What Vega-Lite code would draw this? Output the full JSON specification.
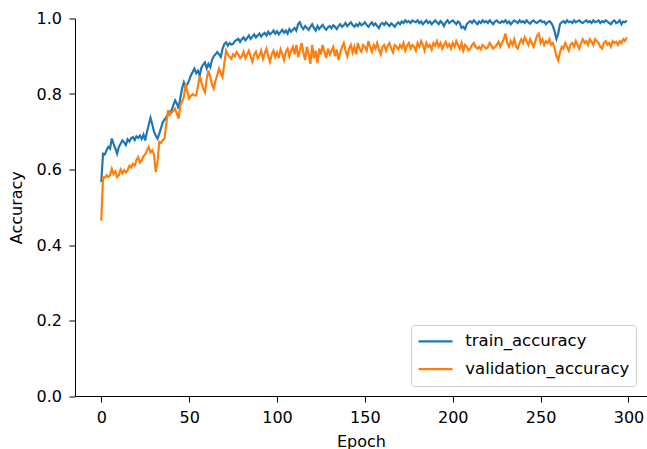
{
"$schema": "https://vega.github.io/schema/vega-lite/v6.json",
"width": 572, "height": 377.5,
"autosize": {"type": "none"},
"padding": {"left": 75, "top": 18.5, "right": 0, "bottom": 53},
"background": "white",
"config": {"view": {"stroke": null}, "font": "DejaVu Sans"},
"datasets": {"acc": [
{"epoch":0,"train_accuracy":0.567,"validation_accuracy":0.464},{"epoch":1,"train_accuracy":0.642,"validation_accuracy":0.580},{"epoch":2,"train_accuracy":0.640,"validation_accuracy":0.578},{"epoch":3,"train_accuracy":0.651,"validation_accuracy":0.585},{"epoch":4,"train_accuracy":0.660,"validation_accuracy":0.580},{"epoch":5,"train_accuracy":0.655,"validation_accuracy":0.585},{"epoch":6,"train_accuracy":0.682,"validation_accuracy":0.602},{"epoch":7,"train_accuracy":0.668,"validation_accuracy":0.588},{"epoch":8,"train_accuracy":0.655,"validation_accuracy":0.595},{"epoch":9,"train_accuracy":0.642,"validation_accuracy":0.580},
{"epoch":10,"train_accuracy":0.660,"validation_accuracy":0.585},{"epoch":11,"train_accuracy":0.668,"validation_accuracy":0.600},{"epoch":12,"train_accuracy":0.677,"validation_accuracy":0.590},{"epoch":13,"train_accuracy":0.672,"validation_accuracy":0.598},{"epoch":14,"train_accuracy":0.665,"validation_accuracy":0.592},{"epoch":15,"train_accuracy":0.680,"validation_accuracy":0.598},{"epoch":16,"train_accuracy":0.674,"validation_accuracy":0.610},{"epoch":17,"train_accuracy":0.683,"validation_accuracy":0.605},{"epoch":18,"train_accuracy":0.686,"validation_accuracy":0.615},{"epoch":19,"train_accuracy":0.678,"validation_accuracy":0.610},
{"epoch":20,"train_accuracy":0.688,"validation_accuracy":0.625},{"epoch":21,"train_accuracy":0.684,"validation_accuracy":0.633},{"epoch":22,"train_accuracy":0.690,"validation_accuracy":0.618},{"epoch":23,"train_accuracy":0.681,"validation_accuracy":0.624},{"epoch":24,"train_accuracy":0.692,"validation_accuracy":0.635},{"epoch":25,"train_accuracy":0.677,"validation_accuracy":0.640},{"epoch":26,"train_accuracy":0.700,"validation_accuracy":0.650},{"epoch":27,"train_accuracy":0.718,"validation_accuracy":0.660},{"epoch":28,"train_accuracy":0.737,"validation_accuracy":0.645},{"epoch":29,"train_accuracy":0.720,"validation_accuracy":0.651},
{"epoch":30,"train_accuracy":0.700,"validation_accuracy":0.640},{"epoch":31,"train_accuracy":0.690,"validation_accuracy":0.593},{"epoch":32,"train_accuracy":0.682,"validation_accuracy":0.620},{"epoch":33,"train_accuracy":0.695,"validation_accuracy":0.673},{"epoch":34,"train_accuracy":0.710,"validation_accuracy":0.670},{"epoch":35,"train_accuracy":0.725,"validation_accuracy":0.678},{"epoch":36,"train_accuracy":0.732,"validation_accuracy":0.682},{"epoch":37,"train_accuracy":0.739,"validation_accuracy":0.720},{"epoch":38,"train_accuracy":0.745,"validation_accuracy":0.757},{"epoch":39,"train_accuracy":0.752,"validation_accuracy":0.745},
{"epoch":40,"train_accuracy":0.757,"validation_accuracy":0.750},{"epoch":41,"train_accuracy":0.770,"validation_accuracy":0.755},{"epoch":42,"train_accuracy":0.783,"validation_accuracy":0.761},{"epoch":43,"train_accuracy":0.775,"validation_accuracy":0.748},{"epoch":44,"train_accuracy":0.761,"validation_accuracy":0.735},{"epoch":45,"train_accuracy":0.790,"validation_accuracy":0.770},{"epoch":46,"train_accuracy":0.815,"validation_accuracy":0.780},{"epoch":47,"train_accuracy":0.831,"validation_accuracy":0.792},{"epoch":48,"train_accuracy":0.820,"validation_accuracy":0.827},{"epoch":49,"train_accuracy":0.826,"validation_accuracy":0.805},
{"epoch":50,"train_accuracy":0.836,"validation_accuracy":0.788},{"epoch":51,"train_accuracy":0.850,"validation_accuracy":0.795},{"epoch":52,"train_accuracy":0.858,"validation_accuracy":0.800},{"epoch":53,"train_accuracy":0.867,"validation_accuracy":0.796},{"epoch":54,"train_accuracy":0.855,"validation_accuracy":0.796},{"epoch":55,"train_accuracy":0.862,"validation_accuracy":0.820},{"epoch":56,"train_accuracy":0.849,"validation_accuracy":0.849},{"epoch":57,"train_accuracy":0.870,"validation_accuracy":0.830},{"epoch":58,"train_accuracy":0.878,"validation_accuracy":0.815},{"epoch":59,"train_accuracy":0.884,"validation_accuracy":0.805},
{"epoch":60,"train_accuracy":0.868,"validation_accuracy":0.840},{"epoch":61,"train_accuracy":0.880,"validation_accuracy":0.862},{"epoch":62,"train_accuracy":0.871,"validation_accuracy":0.845},{"epoch":63,"train_accuracy":0.890,"validation_accuracy":0.825},{"epoch":64,"train_accuracy":0.900,"validation_accuracy":0.814},{"epoch":65,"train_accuracy":0.905,"validation_accuracy":0.835},{"epoch":66,"train_accuracy":0.911,"validation_accuracy":0.850},{"epoch":67,"train_accuracy":0.905,"validation_accuracy":0.867},{"epoch":68,"train_accuracy":0.898,"validation_accuracy":0.855},{"epoch":69,"train_accuracy":0.920,"validation_accuracy":0.845},
{"epoch":70,"train_accuracy":0.932,"validation_accuracy":0.880},{"epoch":71,"train_accuracy":0.937,"validation_accuracy":0.915},{"epoch":72,"train_accuracy":0.928,"validation_accuracy":0.905},{"epoch":73,"train_accuracy":0.935,"validation_accuracy":0.898},{"epoch":74,"train_accuracy":0.931,"validation_accuracy":0.893},{"epoch":75,"train_accuracy":0.933,"validation_accuracy":0.905},{"epoch":76,"train_accuracy":0.940,"validation_accuracy":0.900},{"epoch":77,"train_accuracy":0.943,"validation_accuracy":0.911},{"epoch":78,"train_accuracy":0.946,"validation_accuracy":0.905},{"epoch":79,"train_accuracy":0.938,"validation_accuracy":0.895},
{"epoch":80,"train_accuracy":0.945,"validation_accuracy":0.900},{"epoch":81,"train_accuracy":0.950,"validation_accuracy":0.912},{"epoch":82,"train_accuracy":0.942,"validation_accuracy":0.895},{"epoch":83,"train_accuracy":0.948,"validation_accuracy":0.905},{"epoch":84,"train_accuracy":0.955,"validation_accuracy":0.915},{"epoch":85,"train_accuracy":0.946,"validation_accuracy":0.898},{"epoch":86,"train_accuracy":0.952,"validation_accuracy":0.885},{"epoch":87,"train_accuracy":0.958,"validation_accuracy":0.905},{"epoch":88,"train_accuracy":0.950,"validation_accuracy":0.912},{"epoch":89,"train_accuracy":0.955,"validation_accuracy":0.895},
{"epoch":90,"train_accuracy":0.960,"validation_accuracy":0.902},{"epoch":91,"train_accuracy":0.952,"validation_accuracy":0.915},{"epoch":92,"train_accuracy":0.958,"validation_accuracy":0.893},{"epoch":93,"train_accuracy":0.962,"validation_accuracy":0.908},{"epoch":94,"train_accuracy":0.955,"validation_accuracy":0.920},{"epoch":95,"train_accuracy":0.965,"validation_accuracy":0.900},{"epoch":96,"train_accuracy":0.958,"validation_accuracy":0.885},{"epoch":97,"train_accuracy":0.962,"validation_accuracy":0.905},{"epoch":98,"train_accuracy":0.968,"validation_accuracy":0.915},{"epoch":99,"train_accuracy":0.960,"validation_accuracy":0.898},
{"epoch":100,"train_accuracy":0.966,"validation_accuracy":0.910},{"epoch":101,"train_accuracy":0.958,"validation_accuracy":0.895},{"epoch":102,"train_accuracy":0.964,"validation_accuracy":0.918},{"epoch":103,"train_accuracy":0.970,"validation_accuracy":0.905},{"epoch":104,"train_accuracy":0.962,"validation_accuracy":0.890},{"epoch":105,"train_accuracy":0.968,"validation_accuracy":0.912},{"epoch":106,"train_accuracy":0.960,"validation_accuracy":0.920},{"epoch":107,"train_accuracy":0.972,"validation_accuracy":0.900},{"epoch":108,"train_accuracy":0.965,"validation_accuracy":0.915},{"epoch":109,"train_accuracy":0.970,"validation_accuracy":0.925},
{"epoch":110,"train_accuracy":0.975,"validation_accuracy":0.905},{"epoch":111,"train_accuracy":0.968,"validation_accuracy":0.930},{"epoch":112,"train_accuracy":0.985,"validation_accuracy":0.898},{"epoch":113,"train_accuracy":0.990,"validation_accuracy":0.915},{"epoch":114,"train_accuracy":0.978,"validation_accuracy":0.935},{"epoch":115,"train_accuracy":0.972,"validation_accuracy":0.910},{"epoch":116,"train_accuracy":0.980,"validation_accuracy":0.890},{"epoch":117,"train_accuracy":0.975,"validation_accuracy":0.925},{"epoch":118,"train_accuracy":0.970,"validation_accuracy":0.905},{"epoch":119,"train_accuracy":0.978,"validation_accuracy":0.880},
{"epoch":120,"train_accuracy":0.985,"validation_accuracy":0.930},{"epoch":121,"train_accuracy":0.975,"validation_accuracy":0.895},{"epoch":122,"train_accuracy":0.968,"validation_accuracy":0.915},{"epoch":123,"train_accuracy":0.980,"validation_accuracy":0.882},{"epoch":124,"train_accuracy":0.972,"validation_accuracy":0.920},{"epoch":125,"train_accuracy":0.978,"validation_accuracy":0.905},{"epoch":126,"train_accuracy":0.983,"validation_accuracy":0.930},{"epoch":127,"train_accuracy":0.975,"validation_accuracy":0.912},{"epoch":128,"train_accuracy":0.970,"validation_accuracy":0.895},{"epoch":129,"train_accuracy":0.977,"validation_accuracy":0.920},
{"epoch":130,"train_accuracy":0.980,"validation_accuracy":0.905},{"epoch":131,"train_accuracy":0.974,"validation_accuracy":0.915},{"epoch":132,"train_accuracy":0.982,"validation_accuracy":0.925},{"epoch":133,"train_accuracy":0.978,"validation_accuracy":0.900},{"epoch":134,"train_accuracy":0.972,"validation_accuracy":0.918},{"epoch":135,"train_accuracy":0.980,"validation_accuracy":0.890},{"epoch":136,"train_accuracy":0.985,"validation_accuracy":0.910},{"epoch":137,"train_accuracy":0.978,"validation_accuracy":0.925},{"epoch":138,"train_accuracy":0.982,"validation_accuracy":0.935},{"epoch":139,"train_accuracy":0.988,"validation_accuracy":0.915},
{"epoch":140,"train_accuracy":0.980,"validation_accuracy":0.900},{"epoch":141,"train_accuracy":0.985,"validation_accuracy":0.920},{"epoch":142,"train_accuracy":0.990,"validation_accuracy":0.930},{"epoch":143,"train_accuracy":0.983,"validation_accuracy":0.910},{"epoch":144,"train_accuracy":0.978,"validation_accuracy":0.925},{"epoch":145,"train_accuracy":0.985,"validation_accuracy":0.905},{"epoch":146,"train_accuracy":0.980,"validation_accuracy":0.935},{"epoch":147,"train_accuracy":0.988,"validation_accuracy":0.920},{"epoch":148,"train_accuracy":0.982,"validation_accuracy":0.912},{"epoch":149,"train_accuracy":0.985,"validation_accuracy":0.930},
{"epoch":150,"train_accuracy":0.990,"validation_accuracy":0.925},{"epoch":151,"train_accuracy":0.983,"validation_accuracy":0.915},{"epoch":152,"train_accuracy":0.978,"validation_accuracy":0.940},{"epoch":153,"train_accuracy":0.985,"validation_accuracy":0.925},{"epoch":154,"train_accuracy":0.990,"validation_accuracy":0.912},{"epoch":155,"train_accuracy":0.982,"validation_accuracy":0.930},{"epoch":156,"train_accuracy":0.987,"validation_accuracy":0.920},{"epoch":157,"train_accuracy":0.980,"validation_accuracy":0.935},{"epoch":158,"train_accuracy":0.975,"validation_accuracy":0.918},{"epoch":159,"train_accuracy":0.985,"validation_accuracy":0.905},
{"epoch":160,"train_accuracy":0.988,"validation_accuracy":0.925},{"epoch":161,"train_accuracy":0.983,"validation_accuracy":0.930},{"epoch":162,"train_accuracy":0.990,"validation_accuracy":0.915},{"epoch":163,"train_accuracy":0.985,"validation_accuracy":0.928},{"epoch":164,"train_accuracy":0.980,"validation_accuracy":0.935},{"epoch":165,"train_accuracy":0.987,"validation_accuracy":0.920},{"epoch":166,"train_accuracy":0.983,"validation_accuracy":0.910},{"epoch":167,"train_accuracy":0.978,"validation_accuracy":0.930},{"epoch":168,"train_accuracy":0.985,"validation_accuracy":0.925},{"epoch":169,"train_accuracy":0.990,"validation_accuracy":0.918},
{"epoch":170,"train_accuracy":0.985,"validation_accuracy":0.930},{"epoch":171,"train_accuracy":0.992,"validation_accuracy":0.922},{"epoch":172,"train_accuracy":0.988,"validation_accuracy":0.935},{"epoch":173,"train_accuracy":0.995,"validation_accuracy":0.915},{"epoch":174,"train_accuracy":0.990,"validation_accuracy":0.928},{"epoch":175,"train_accuracy":0.993,"validation_accuracy":0.935},{"epoch":176,"train_accuracy":0.988,"validation_accuracy":0.920},{"epoch":177,"train_accuracy":0.995,"validation_accuracy":0.930},{"epoch":178,"train_accuracy":0.992,"validation_accuracy":0.925},{"epoch":179,"train_accuracy":0.990,"validation_accuracy":0.915},
{"epoch":180,"train_accuracy":0.995,"validation_accuracy":0.935},{"epoch":181,"train_accuracy":0.988,"validation_accuracy":0.925},{"epoch":182,"train_accuracy":0.992,"validation_accuracy":0.940},{"epoch":183,"train_accuracy":0.985,"validation_accuracy":0.930},{"epoch":184,"train_accuracy":0.990,"validation_accuracy":0.915},{"epoch":185,"train_accuracy":0.995,"validation_accuracy":0.935},{"epoch":186,"train_accuracy":0.988,"validation_accuracy":0.925},{"epoch":187,"train_accuracy":0.992,"validation_accuracy":0.930},{"epoch":188,"train_accuracy":0.985,"validation_accuracy":0.918},{"epoch":189,"train_accuracy":0.990,"validation_accuracy":0.935},
{"epoch":190,"train_accuracy":0.995,"validation_accuracy":0.928},{"epoch":191,"train_accuracy":0.990,"validation_accuracy":0.940},{"epoch":192,"train_accuracy":0.985,"validation_accuracy":0.925},{"epoch":193,"train_accuracy":0.993,"validation_accuracy":0.935},{"epoch":194,"train_accuracy":0.988,"validation_accuracy":0.920},{"epoch":195,"train_accuracy":0.980,"validation_accuracy":0.930},{"epoch":196,"train_accuracy":0.990,"validation_accuracy":0.938},{"epoch":197,"train_accuracy":0.995,"validation_accuracy":0.925},{"epoch":198,"train_accuracy":0.988,"validation_accuracy":0.932},{"epoch":199,"train_accuracy":0.992,"validation_accuracy":0.920},
{"epoch":200,"train_accuracy":0.995,"validation_accuracy":0.935},{"epoch":201,"train_accuracy":0.990,"validation_accuracy":0.925},{"epoch":202,"train_accuracy":0.985,"validation_accuracy":0.940},{"epoch":203,"train_accuracy":0.992,"validation_accuracy":0.930},{"epoch":204,"train_accuracy":0.988,"validation_accuracy":0.920},{"epoch":205,"train_accuracy":0.975,"validation_accuracy":0.935},{"epoch":206,"train_accuracy":0.978,"validation_accuracy":0.915},{"epoch":207,"train_accuracy":0.972,"validation_accuracy":0.930},{"epoch":208,"train_accuracy":0.985,"validation_accuracy":0.925},{"epoch":209,"train_accuracy":0.990,"validation_accuracy":0.915},
{"epoch":210,"train_accuracy":0.993,"validation_accuracy":0.920},{"epoch":211,"train_accuracy":0.988,"validation_accuracy":0.930},{"epoch":212,"train_accuracy":0.995,"validation_accuracy":0.935},{"epoch":213,"train_accuracy":0.990,"validation_accuracy":0.925},{"epoch":214,"train_accuracy":0.985,"validation_accuracy":0.920},{"epoch":215,"train_accuracy":0.992,"validation_accuracy":0.925},{"epoch":216,"train_accuracy":0.988,"validation_accuracy":0.918},{"epoch":217,"train_accuracy":0.995,"validation_accuracy":0.930},{"epoch":218,"train_accuracy":0.990,"validation_accuracy":0.925},{"epoch":219,"train_accuracy":0.993,"validation_accuracy":0.920},
{"epoch":220,"train_accuracy":0.988,"validation_accuracy":0.925},{"epoch":221,"train_accuracy":0.995,"validation_accuracy":0.935},{"epoch":222,"train_accuracy":0.990,"validation_accuracy":0.928},{"epoch":223,"train_accuracy":0.985,"validation_accuracy":0.920},{"epoch":224,"train_accuracy":0.992,"validation_accuracy":0.925},{"epoch":225,"train_accuracy":0.995,"validation_accuracy":0.930},{"epoch":226,"train_accuracy":0.990,"validation_accuracy":0.938},{"epoch":227,"train_accuracy":0.988,"validation_accuracy":0.925},{"epoch":228,"train_accuracy":0.993,"validation_accuracy":0.935},{"epoch":229,"train_accuracy":0.990,"validation_accuracy":0.945},
{"epoch":230,"train_accuracy":0.995,"validation_accuracy":0.960},{"epoch":231,"train_accuracy":0.988,"validation_accuracy":0.935},{"epoch":232,"train_accuracy":0.992,"validation_accuracy":0.925},{"epoch":233,"train_accuracy":0.985,"validation_accuracy":0.940},{"epoch":234,"train_accuracy":0.990,"validation_accuracy":0.930},{"epoch":235,"train_accuracy":0.995,"validation_accuracy":0.945},{"epoch":236,"train_accuracy":0.992,"validation_accuracy":0.925},{"epoch":237,"train_accuracy":0.988,"validation_accuracy":0.920},{"epoch":238,"train_accuracy":0.995,"validation_accuracy":0.935},{"epoch":239,"train_accuracy":0.990,"validation_accuracy":0.945},
{"epoch":240,"train_accuracy":0.993,"validation_accuracy":0.935},{"epoch":241,"train_accuracy":0.988,"validation_accuracy":0.950},{"epoch":242,"train_accuracy":0.995,"validation_accuracy":0.940},{"epoch":243,"train_accuracy":0.990,"validation_accuracy":0.930},{"epoch":244,"train_accuracy":0.986,"validation_accuracy":0.945},{"epoch":245,"train_accuracy":0.992,"validation_accuracy":0.935},{"epoch":246,"train_accuracy":0.995,"validation_accuracy":0.925},{"epoch":247,"train_accuracy":0.990,"validation_accuracy":0.940},{"epoch":248,"train_accuracy":0.988,"validation_accuracy":0.955},{"epoch":249,"train_accuracy":0.993,"validation_accuracy":0.960},
{"epoch":250,"train_accuracy":0.995,"validation_accuracy":0.935},{"epoch":251,"train_accuracy":0.990,"validation_accuracy":0.945},{"epoch":252,"train_accuracy":0.992,"validation_accuracy":0.930},{"epoch":253,"train_accuracy":0.985,"validation_accuracy":0.940},{"epoch":254,"train_accuracy":0.990,"validation_accuracy":0.935},{"epoch":255,"train_accuracy":0.993,"validation_accuracy":0.945},{"epoch":256,"train_accuracy":0.988,"validation_accuracy":0.930},{"epoch":257,"train_accuracy":0.980,"validation_accuracy":0.935},{"epoch":258,"train_accuracy":0.965,"validation_accuracy":0.920},{"epoch":259,"train_accuracy":0.946,"validation_accuracy":0.900},
{"epoch":260,"train_accuracy":0.960,"validation_accuracy":0.889},{"epoch":261,"train_accuracy":0.985,"validation_accuracy":0.910},{"epoch":262,"train_accuracy":0.990,"validation_accuracy":0.925},{"epoch":263,"train_accuracy":0.993,"validation_accuracy":0.920},{"epoch":264,"train_accuracy":0.988,"validation_accuracy":0.935},{"epoch":265,"train_accuracy":0.995,"validation_accuracy":0.925},{"epoch":266,"train_accuracy":0.990,"validation_accuracy":0.915},{"epoch":267,"train_accuracy":0.992,"validation_accuracy":0.930},{"epoch":268,"train_accuracy":0.988,"validation_accuracy":0.935},{"epoch":269,"train_accuracy":0.995,"validation_accuracy":0.925},
{"epoch":270,"train_accuracy":0.990,"validation_accuracy":0.940},{"epoch":271,"train_accuracy":0.993,"validation_accuracy":0.930},{"epoch":272,"train_accuracy":0.995,"validation_accuracy":0.920},{"epoch":273,"train_accuracy":0.990,"validation_accuracy":0.935},{"epoch":274,"train_accuracy":0.988,"validation_accuracy":0.945},{"epoch":275,"train_accuracy":0.992,"validation_accuracy":0.935},{"epoch":276,"train_accuracy":0.995,"validation_accuracy":0.940},{"epoch":277,"train_accuracy":0.990,"validation_accuracy":0.930},{"epoch":278,"train_accuracy":0.993,"validation_accuracy":0.945},{"epoch":279,"train_accuracy":0.988,"validation_accuracy":0.938},
{"epoch":280,"train_accuracy":0.995,"validation_accuracy":0.930},{"epoch":281,"train_accuracy":0.990,"validation_accuracy":0.945},{"epoch":282,"train_accuracy":0.992,"validation_accuracy":0.940},{"epoch":283,"train_accuracy":0.995,"validation_accuracy":0.935},{"epoch":284,"train_accuracy":0.988,"validation_accuracy":0.925},{"epoch":285,"train_accuracy":0.993,"validation_accuracy":0.920},{"epoch":286,"train_accuracy":0.990,"validation_accuracy":0.935},{"epoch":287,"train_accuracy":0.995,"validation_accuracy":0.940},{"epoch":288,"train_accuracy":0.992,"validation_accuracy":0.930},{"epoch":289,"train_accuracy":0.988,"validation_accuracy":0.935},
{"epoch":290,"train_accuracy":0.985,"validation_accuracy":0.925},{"epoch":291,"train_accuracy":0.992,"validation_accuracy":0.940},{"epoch":292,"train_accuracy":0.995,"validation_accuracy":0.935},{"epoch":293,"train_accuracy":0.988,"validation_accuracy":0.938},{"epoch":294,"train_accuracy":0.990,"validation_accuracy":0.930},{"epoch":295,"train_accuracy":0.995,"validation_accuracy":0.940},{"epoch":296,"train_accuracy":0.985,"validation_accuracy":0.935},{"epoch":297,"train_accuracy":0.992,"validation_accuracy":0.945},{"epoch":298,"train_accuracy":0.990,"validation_accuracy":0.940},{"epoch":299,"train_accuracy":0.995,"validation_accuracy":0.950}
]},
"layer": [
{
"data": {"name": "acc"},
"transform": [{"fold": ["train_accuracy", "validation_accuracy"], "as": ["series", "value"]}],
"mark": {"type": "line", "strokeWidth": 2.2, "clip": true},
"encoding": {
"x": {"field": "epoch", "type": "quantitative",
"scale": {"domain": [-14.95, 310.53], "nice": false, "zero": false},
"axis": {"title": "Epoch", "values": [0, 50, 100, 150, 200, 250, 300], "grid": false,
"labelFontSize": 16, "titleFontSize": 16, "titleFontWeight": "normal", "labelColor": "#000", "titleColor": "#000",
"tickColor": "#000", "tickSize": 6, "domainColor": "#000", "labelPadding": 7, "titlePadding": 8, "labelFlush": false}},
"y": {"field": "value", "type": "quantitative",
"scale": {"domain": [0, 1], "nice": false, "zero": false},
"axis": {"title": "Accuracy", "values": [0, 0.2, 0.4, 0.6, 0.8, 1.0], "format": ".1f", "grid": false,
"labelFontSize": 16, "titleFontSize": 16, "titleFontWeight": "normal", "labelColor": "#000", "titleColor": "#000",
"tickColor": "#000", "tickSize": 6, "domainColor": "#000", "labelPadding": 7.5, "titlePadding": 12, "labelFlush": false}},
"color": {"field": "series", "type": "nominal",
"scale": {"domain": ["train_accuracy", "validation_accuracy"], "range": ["#1f77b4", "#ff7f0e"]},
"legend": {"title": null, "orient": "none", "legendX": 336, "legendY": 306.5,
"symbolType": "stroke", "symbolSize": 1156, "symbolStrokeWidth": 2.2,
"clipHeight": 20.6, "rowPadding": 6.8,
"labelFontSize": 16.5, "labelLimit": 400, "labelColor": "#000", "labelOffset": 11.3, "padding": 6,
"strokeColor": "#cccccc", "fillColor": "rgba(255,255,255,0.8)", "cornerRadius": 3}}
}
},
{
"mark": {"type": "rule", "color": "#000", "strokeWidth": 1},
"encoding": {"y": {"datum": 1}}
}
]
}
